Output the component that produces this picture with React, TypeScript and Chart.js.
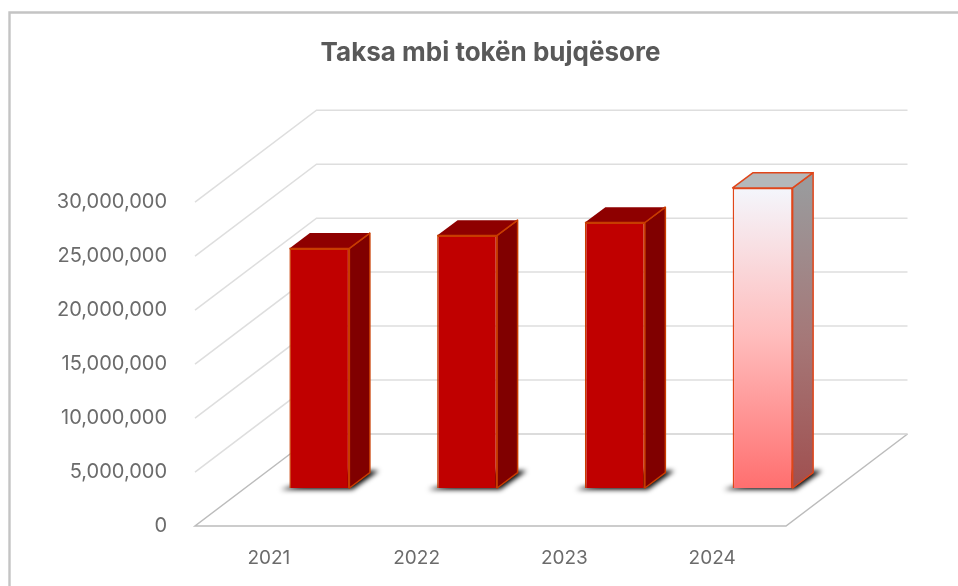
import React, { useEffect, useRef } from "react";
import { Chart, registerables } from "chart.js";

Chart.register(...registerables);

const categories = ["2021", "2022", "2023", "2024"];
const taxValues = [22200000, 23400000, 24600000, 27800000];
const chartTitle = "Taksa mbi tokën bujqësore";
const yMax = 30000000;
const yStep = 5000000;

// 3D projection constants
const WALL_DX = 121.5;
const WALL_DY = 92;
const BAR_DX = 50.5;
const BAR_DY = 38;
const DEPTH_DX = 20.5;
const DEPTH_DY = 15.3;

const FONT = 'Inter, "Liberation Sans", Arial, sans-serif';

const poly = (ctx: CanvasRenderingContext2D, pts: number[][]) => {
  ctx.beginPath();
  pts.forEach((p, i) => (i ? ctx.lineTo(p[0], p[1]) : ctx.moveTo(p[0], p[1])));
  ctx.closePath();
};

const framePlugin = {
  id: "frame3d",
  beforeDraw(chart: any) {
    const { ctx, scales } = chart;
    const y = scales.y;
    const x = scales.x;
    ctx.save();
    ctx.fillStyle = "#ffffff";
    ctx.fillRect(0, 0, chart.width, chart.height);
    // outer frame
    ctx.strokeStyle = "#c4c4c4";
    ctx.lineWidth = 2.4;
    ctx.beginPath();
    ctx.moveTo(9.5, 586);
    ctx.lineTo(9.5, 12.5);
    ctx.lineTo(958, 12.5);
    ctx.stroke();
    // walls
    ctx.lineWidth = 1.5;
    for (let v = yStep; v <= yMax; v += yStep) {
      const py = y.getPixelForValue(v);
      ctx.strokeStyle = "#dedede";
      ctx.beginPath();
      ctx.moveTo(x.left, py);
      ctx.lineTo(x.left + WALL_DX, py - WALL_DY);
      ctx.lineTo(x.right + WALL_DX, py - WALL_DY);
      ctx.stroke();
    }
    // floor
    const p0 = y.getPixelForValue(0);
    ctx.strokeStyle = "#bcbcbc";
    ctx.beginPath();
    ctx.moveTo(x.left + WALL_DX, p0 - WALL_DY);
    ctx.lineTo(x.left, p0);
    ctx.lineTo(x.right, p0);
    ctx.lineTo(x.right + WALL_DX, p0 - WALL_DY);
    ctx.stroke();
    ctx.strokeStyle = "#d0d0d0";
    ctx.beginPath();
    ctx.moveTo(x.left + WALL_DX, p0 - WALL_DY);
    ctx.lineTo(x.right + WALL_DX, p0 - WALL_DY);
    ctx.stroke();
    ctx.restore();
  },
  beforeDatasetsDraw(chart: any) {
    const { ctx } = chart;
    const meta = chart.getDatasetMeta(0);
    ctx.save();
    ctx.translate(BAR_DX, -BAR_DY);
    meta.data.forEach((bar: any, i: number) => {
      const l = bar.x - bar.width / 2;
      const r = bar.x + bar.width / 2;
      const t = bar.y;
      const b = bar.base;
      const accent = i === categories.length - 1;
      // floor shadow, only the blurred shadow is painted
      ctx.save();
      const off = 3000;
      ctx.shadowColor = "rgba(0,0,0,1)";
      ctx.shadowBlur = 5;
      ctx.shadowOffsetX = off;
      ctx.fillStyle = "#000";
      poly(ctx, [
        [l - 9 - off, b + 1.5],
        [r + 3 - off, b + 1.5],
        [r + DEPTH_DX + 9 - off, b - DEPTH_DY - 2],
        [r - off, b - DEPTH_DY - 2],
      ]);
      ctx.fill();
      ctx.restore();
      // right side
      const side = ctx.createLinearGradient(0, t, 0, b);
      if (accent) {
        side.addColorStop(0, "#9a9a9c");
        side.addColorStop(0.5, "#a57878");
        side.addColorStop(1, "#a04f4f");
      } else {
        side.addColorStop(0, "#800000");
        side.addColorStop(1, "#800000");
      }
      ctx.fillStyle = side;
      ctx.strokeStyle = accent ? "#e0461a" : "#c83c00";
      ctx.lineWidth = 1.5;
      ctx.lineJoin = "round";
      poly(ctx, [
        [r, t],
        [r + DEPTH_DX, t - DEPTH_DY],
        [r + DEPTH_DX, b - DEPTH_DY],
        [r, b],
      ]);
      ctx.fill();
      ctx.stroke();
      // top
      ctx.fillStyle = accent ? "#b4b8ba" : "#8e0000";
      poly(ctx, [
        [l, t],
        [l + DEPTH_DX, t - DEPTH_DY],
        [r + DEPTH_DX, t - DEPTH_DY],
        [r, t],
      ]);
      ctx.fill();
      if (accent) ctx.stroke();
      else {
        ctx.beginPath();
        ctx.moveTo(l, t);
        ctx.lineTo(r, t);
        ctx.lineTo(r + DEPTH_DX, t - DEPTH_DY);
        ctx.stroke();
      }
    });
  },
  afterDatasetsDraw(chart: any) {
    chart.ctx.restore();
  },
};

const frontFill = (context: any) => {
  if (context.dataIndex !== categories.length - 1) return "#c00000";
  const yScale = context.chart.scales.y;
  const top = yScale.getPixelForValue(taxValues[context.dataIndex]);
  const base = yScale.getPixelForValue(0);
  const g = context.chart.ctx.createLinearGradient(0, top, 0, base);
  g.addColorStop(0, "#f4f6fc");
  g.addColorStop(0.5, "#ffbcbc");
  g.addColorStop(1, "#ff6f6f");
  return g;
};

export default function App() {
  const ref = useRef<HTMLCanvasElement | null>(null);
  useEffect(() => {
    document.body.style.margin = "0";
    const chart = new Chart(ref.current as HTMLCanvasElement, {
      type: "bar",
      data: {
        labels: categories,
        datasets: [
          {
            data: taxValues,
            backgroundColor: frontFill as any,
            borderColor: (c: any) => (c.dataIndex === categories.length - 1 ? "#e0461a" : "#c83c00"),
            borderWidth: 1.5,
            barPercentage: 0.406,
            categoryPercentage: 1,
          },
        ],
      },
      options: {
        animation: false,
        responsive: false,
        layout: { padding: { right: 172, top: 0, bottom: 0, left: 0 } },
        plugins: {
          legend: { display: false },
          tooltip: { enabled: false },
          title: {
            display: true,
            text: chartTitle,
            color: "#595959",
            font: { family: FONT, size: 26, weight: "bold" },
            padding: { top: 38, bottom: 133 },
            align: "center",
            fullSize: false,
          } as any,
        },
        scales: {
          x: {
            grid: { display: false },
            border: { display: false },
            ticks: { color: "#6b6b6b", font: { family: FONT, size: 19 }, padding: 13, maxRotation: 0 },
            afterFit: (s: any) => {
              s.height = 60;
            },
          },
          y: {
            min: 0,
            max: yMax,
            grid: { display: false },
            border: { display: false },
            ticks: {
              stepSize: yStep,
              color: "#6b6b6b",
              font: { family: FONT, size: 20 },
              padding: 20,
              labelOffset: 0,
              callback: (v: any) => Number(v).toLocaleString("en-US"),
            },
            afterFit: (s: any) => {
              s.width = 195;
            },
          },
        },
      },
      plugins: [framePlugin as any],
    });
    return () => chart.destroy();
  }, []);
  return <canvas ref={ref} width={958} height={586} style={{ display: "block" }} />;
}
